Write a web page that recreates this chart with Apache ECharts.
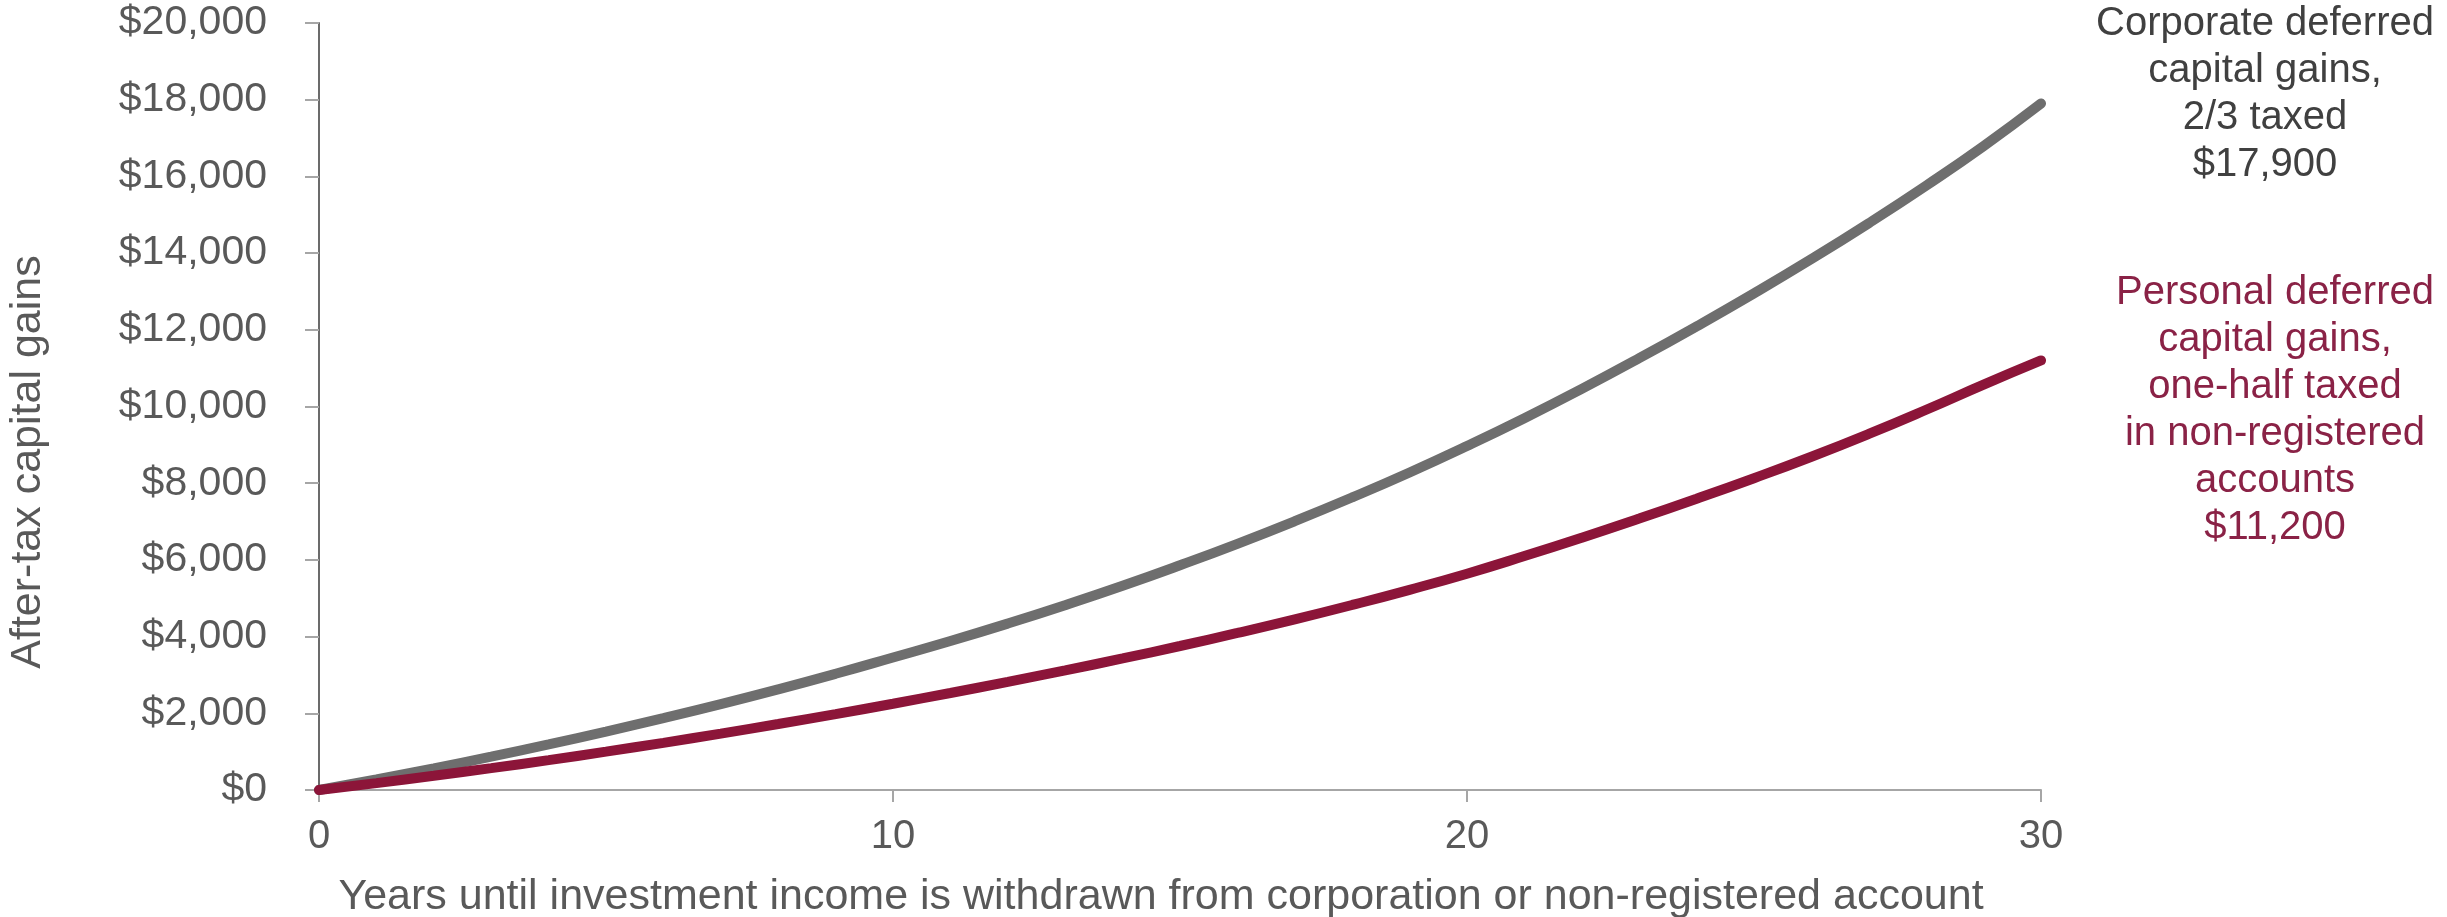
<!DOCTYPE html>
<html>
<head>
<meta charset="utf-8">
<title>After-tax capital gains</title>
<script src="https://cdn.jsdelivr.net/npm/echarts@6/dist/echarts.min.js"></script>
<style>
    html,body{margin:0;padding:0;background:#ffffff;}
    #container{width:2447px;height:917px;}
</style>
</head>
<body>
<div id="container"></div>
<script>
// years on the x axis
var years = [0,1,2,3,4,5,6,7,8,9,10,11,12,13,14,15,16,17,18,19,20,21,22,23,24,25,26,27,28,29,30];
// corporate deferred capital gains, 2/3 taxed
var corporateGains = [0,275,565,870,1190,1525,1875,2240,2625,3030,3455,3885,4340,4820,5325,5860,6420,7010,7630,8280,8970,9695,10460,11260,12090,12950,13845,14780,15760,16790,17900];
// personal deferred capital gains, one-half taxed
var personalGains = [0,180,370,570,780,1000,1230,1470,1720,1980,2250,2530,2820,3120,3430,3755,4095,4450,4825,5220,5640,6100,6580,7080,7595,8130,8690,9285,9915,10570,11200];
var yTicks = [0,2000,4000,6000,8000,10000,12000,14000,16000,18000,20000];
var xTicks = [0,10,20,30];

var corporateNote = ['Corporate deferred','capital gains,','2/3 taxed','$17,900'];
var personalNote = ['Personal deferred','capital gains,','one-half taxed','in non-registered','accounts','$11,200'];

var fontName = '"Liberation Sans", Arial, sans-serif';

function toPairs(xs, ys){
    var out=[];
    for(var i=0;i<xs.length;i++){
        out.push([xs[i], ys[i]]);
    }
    return out;
}

function money(v){
    return '$' + v.toString().replace(/\B(?=(\d{3})+(?!\d))/g, ',');
}

var dom = document.getElementById('container');
var myChart = echarts.init(dom);
var option = {
    backgroundColor: '#ffffff',
    animation: false,
    grid: {
        left: 319,
        right: 406,
        top: 23,
        bottom: 127
    },
    xAxis: {
        type: 'value',
        min: xTicks[0],
        max: xTicks[xTicks.length-1],
        interval: 10,
        splitLine: {show: false},
        axisLine: {lineStyle: {color: '#a6a6a6', width: 2}},
        axisTick: {show: true, length: 12, lineStyle: {color: '#a6a6a6', width: 2}},
        axisLabel: {
            margin: 27,
            fontSize: 40,
            fontFamily: fontName,
            color: '#595959'
        }
    },
    yAxis: {
        type: 'value',
        min: yTicks[0],
        max: yTicks[yTicks.length-1],
        interval: 2000,
        splitLine: {show: false},
        axisLine: {show: true, lineStyle: {color: '#6b6b6b', width: 2}},
        axisTick: {show: true, length: 14, lineStyle: {color: '#a6a6a6', width: 2}},
        axisLabel: {
            margin: 52,
            fontSize: 41,
            fontFamily: fontName,
            color: '#595959',
            formatter: function(v){ return money(v); }
        }
    },
    graphic: [
        // y axis title
        {
            type: 'text',
            x: 28,
            y: 462,
            rotation: Math.PI/2,
            style: {
                text: 'After-tax capital gains',
                fontSize: 43,
                fontFamily: fontName,
                fill: '#595959',
                textAlign: 'center',
                textVerticalAlign: 'middle'
            }
        },
        // x axis title
        {
            type: 'text',
            x: 1161,
            y: 897,
            style: {
                text: 'Years until investment income is withdrawn from corporation or non-registered account',
                fontSize: 43,
                fontFamily: fontName,
                fill: '#595959',
                textAlign: 'center',
                textVerticalAlign: 'middle'
            }
        },
        {
            type: 'text',
            x: 2265,
            y: 0,
            style: {
                text: corporateNote.join('\n'),
                fontSize: 40,
                lineHeight: 47,
                fontFamily: fontName,
                fill: '#404040',
                textAlign: 'center',
                textVerticalAlign: 'top'
            }
        },
        {
            type: 'text',
            x: 2275,
            y: 269,
            style: {
                text: personalNote.join('\n'),
                fontSize: 40,
                lineHeight: 47,
                fontFamily: fontName,
                fill: '#8a2246',
                textAlign: 'center',
                textVerticalAlign: 'top'
            }
        }
    ],
    series: [
        {
            name: 'Corporate deferred capital gains',
            type: 'line',
            smooth: true,
            showSymbol: false,
            lineStyle: {color: '#6e6e6e', width: 10, cap: 'round'},
            data: toPairs(years, corporateGains)
        },
        {
            name: 'Personal deferred capital gains',
            type: 'line',
            smooth: true,
            showSymbol: false,
            lineStyle: {color: '#8c1539', width: 10, cap: 'round'},
            data: toPairs(years, personalGains)
        }
    ]
};
myChart.setOption(option, true);
</script>
</body>
</html>
